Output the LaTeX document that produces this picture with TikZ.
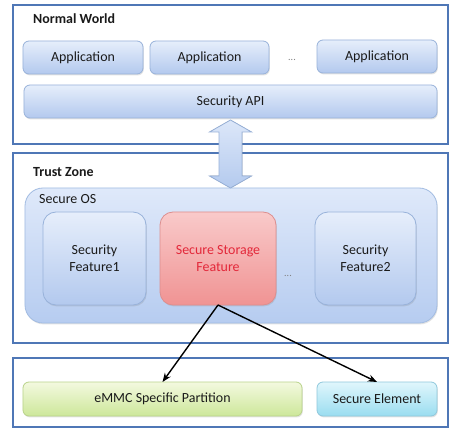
\documentclass[tikz,border=0pt]{standalone}
\usepackage{fontspec}
\setmainfont{Carlito}
\usetikzlibrary{shadows,arrows.meta}
\definecolor{frameblue}{HTML}{4F77B6}
\definecolor{boxtop}{HTML}{E6EEFB}
\definecolor{boxbot}{HTML}{B3C9EE}
\definecolor{boxedge}{HTML}{98B2DA}
\definecolor{ostop}{HTML}{DFE9FA}
\definecolor{osbot}{HTML}{B6CCF0}
\definecolor{osedge}{HTML}{A2BCE2}
\definecolor{redtop}{HTML}{F9CACA}
\definecolor{redbot}{HTML}{F09393}
\definecolor{rededge}{HTML}{DD8E8E}
\definecolor{redtext}{HTML}{E3283A}
\definecolor{greentop}{HTML}{F3F9DF}
\definecolor{greenbot}{HTML}{CDE79A}
\definecolor{greenedge}{HTML}{B9D38A}
\definecolor{cyantop}{HTML}{E0F6FC}
\definecolor{cyanbot}{HTML}{9ADDF0}
\definecolor{cyanedge}{HTML}{8FC8DC}
\definecolor{arrowtop}{HTML}{DCE7F9}
\definecolor{arrowbot}{HTML}{B4CAEE}
\definecolor{txt}{HTML}{1A1A1A}
\begin{document}
\begin{tikzpicture}[x=1bp,y=-1bp,
  font=\fontsize{14}{17}\selectfont,
  frame/.style={draw=frameblue, line width=1.5bp, fill=white, inner sep=0pt, outer sep=0pt},
  base/.style={inner sep=0pt, outer sep=0pt, align=center, text=txt},
  shad/.style={drop shadow={shadow xshift=0.8bp, shadow yshift=-1.4bp, opacity=0.22}},
  bluebox/.style={base, shad, draw=boxedge, line width=0.8bp, top color=boxtop, bottom color=boxbot, rounded corners=6bp},
  featbox/.style={bluebox, rounded corners=13bp},
  osbox/.style={base, shad, draw=osedge, line width=0.8bp, top color=ostop, bottom color=osbot, rounded corners=18bp},
  redbox/.style={base, shad, draw=rededge, line width=0.8bp, top color=redtop, bottom color=redbot, rounded corners=13bp, text=redtext},
  greenbox/.style={base, shad, draw=greenedge, line width=0.8bp, top color=greentop, bottom color=greenbot, rounded corners=6bp},
  cyanbox/.style={base, shad, draw=cyanedge, line width=0.8bp, top color=cyantop, bottom color=cyanbot, rounded corners=6bp},
  title/.style={inner sep=0pt, anchor=west, text=txt, font=\fontsize{14}{17}\selectfont\bfseries},
  label/.style={inner sep=0pt, anchor=west, text=txt},
  dots/.style={inner sep=0pt, text=gray, font=\fontsize{10}{12}\selectfont},
  conn/.style={draw=black, line width=1.4bp, -{Stealth[length=9bp,width=7bp]}}
]
\useasboundingbox (0,0) rectangle (471,434);
\fill[white] (0,0) rectangle (471,434);

% Normal World
\node[frame, minimum width=435bp, minimum height=139bp] (nw) at (230.5,74.5) {};
\node[title] (nwt) at (33,18.5) {Normal World};
\node[bluebox, minimum width=120bp, minimum height=33bp] (app1) at (83,57.5) {Application};
\node[bluebox, minimum width=119bp, minimum height=33bp] (app2) at (209.5,57.5) {Application};
\node[dots] (d1) at (292,60) {...};
\node[bluebox, minimum width=120bp, minimum height=33bp] (app3) at (377,56.5) {Application};
\node[bluebox, minimum width=413bp, minimum height=33bp] (api) at (230.5,101.5) {Security API};

% Trust Zone
\node[frame, minimum width=435bp, minimum height=190bp] (tz) at (230.5,248) {};
\node[title] (tzt) at (33,172) {Trust Zone};
\node[osbox, minimum width=412bp, minimum height=135bp] (os) at (231,255.5) {};
\node[label] (ost) at (39,199) {Secure OS};
\node[featbox, minimum width=103bp, minimum height=93bp] (f1) at (94.5,258.5) {Security\\Feature1};
\node[redbox, minimum width=116bp, minimum height=93bp] (ssf) at (218,258.5) {Secure Storage\\Feature};
\node[dots] (d2) at (288,276) {...};
\node[featbox, minimum width=101bp, minimum height=93bp] (f2) at (365.5,258.5) {Security\\Feature2};

% Storage
\node[frame, minimum width=435bp, minimum height=69bp] (st) at (230.5,392.5) {};
\node[greenbox, minimum width=279bp, minimum height=34bp] (emmc) at (162.5,399) {eMMC Specific Partition};
\node[cyanbox, minimum width=120bp, minimum height=34bp] (se) at (377,399) {Secure Element};

% double arrow between Security API and Secure OS
\filldraw[top color=arrowtop, bottom color=arrowbot, draw=boxedge, line width=0.8bp]
  (230.5,120) -- (251.5,132) -- (242,132) -- (242,176) -- (251.5,176) -- (230.5,188)
  -- (209.5,176) -- (219,176) -- (219,132) -- (209.5,132) -- cycle;

% connectors
\draw[conn] (ssf.south) -- (emmc.north);
\draw[conn] (ssf.south) -- (se.north);
\end{tikzpicture}
\end{document}
